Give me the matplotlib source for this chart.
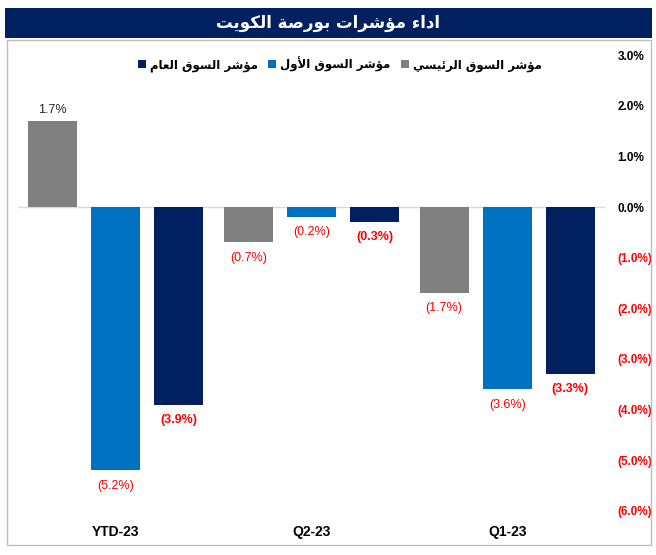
import numpy as np
import matplotlib
matplotlib.use("Agg")
import matplotlib.pyplot as plt
from matplotlib.patches import Rectangle

# data (%)
categories = ["YTD-23", "Q2-23", "Q1-23"]
series_names = ["مؤشر السوق الرئيسي", "مؤشر السوق الأول", "مؤشر السوق العام"]
main_idx = [1.7, -0.7, -1.7]
premier_idx = [-5.2, -0.2, -3.6]
all_share_idx = [-3.9, -0.3, -3.3]
title = "اداء مؤشرات بورصة الكويت"
y_ticks = [3, 2, 1, 0, -1, -2, -3, -4, -5, -6]

NAVY, BLUE, GRAY, RED = "#002060", "#0070C0", "#808080", "#FF0000"

# matplotlib has no arabic shaping -> map to presentation forms + reverse
FORMS = {
    "ا": (0xFE8D, 0xFE8E), "أ": (0xFE83, 0xFE84), "د": (0xFEA9, 0xFEAA),
    "ر": (0xFEAD, 0xFEAE), "و": (0xFEED, 0xFEEE), "ؤ": (0xFE85, 0xFE86),
    "ة": (0xFE93, 0xFE94), "ء": (0xFE80,),
}
for ch, base in {"ب": 0xFE8F, "ت": 0xFE95, "ش": 0xFEB5, "س": 0xFEB1, "ص": 0xFEB9,
                 "ع": 0xFEC9, "ق": 0xFED5, "ك": 0xFED9, "ل": 0xFEDD, "م": 0xFEE1,
                 "ن": 0xFEE5, "ي": 0xFEF1, "ئ": 0xFE89}.items():
    FORMS[ch] = (base, base + 1, base + 2, base + 3)
LAM_ALEF = {"ا": (0xFEFB, 0xFEFC), "أ": (0xFEF7, 0xFEF8)}


def shape(s):
    # merge lam+alef first
    toks = []
    i = 0
    while i < len(s):
        if s[i] == "ل" and i + 1 < len(s) and s[i + 1] in LAM_ALEF:
            toks.append(("LA", s[i + 1])); i += 2
        else:
            toks.append((s[i], None)); i += 1

    def forms(t):
        return LAM_ALEF[t[1]] if t[0] == "LA" else FORMS.get(t[0])

    out = []
    for k, t in enumerate(toks):
        f = forms(t)
        if f is None:
            out.append(t[0]); continue
        pf = forms(toks[k - 1]) if k > 0 else None
        nf = forms(toks[k + 1]) if k + 1 < len(toks) else None
        jp = pf is not None and len(pf) == 4 and len(f) > 1
        jn = len(f) == 4 and nf is not None and len(nf) > 1
        if len(f) == 1:
            c = f[0]
        elif len(f) == 2:
            c = f[1] if jp else f[0]
        else:
            c = f[3] if (jp and jn) else f[1] if jp else f[2] if jn else f[0]
        out.append(chr(c))
    return "".join(out[::-1])


def fmt(v):
    return f"{v:.1f}%" if v >= 0 else f"({abs(v):.1f}%)"


plt.rcParams["font.family"] = ["Liberation Sans", "DejaVu Sans"]
W, H = 656, 555
fig = plt.figure(figsize=(W / 100, H / 100), dpi=100)

# title bar and outer frame (pixel coords from top-left)
def px_rect(x0, y0, x1, y1, **kw):
    fig.patches.append(Rectangle((x0 / W, 1 - y1 / H), (x1 - x0) / W, (y1 - y0) / H,
                                 transform=fig.transFigure, figure=fig, **kw))

px_rect(7, 40, 651, 545, facecolor="none", edgecolor="#BFBFBF", lw=1)
px_rect(5, 8, 652, 38, facecolor=NAVY, edgecolor="none")
fig.text(328 / W, 1 - 23 / H, shape(title), color="white", fontsize=12,
         fontweight="bold", family="DejaVu Sans", ha="center", va="center")

ax = fig.add_axes([18 / W, 1 - 511 / H, 587 / W, 456 / H])
ax.set_facecolor("none")
x = np.arange(len(categories))
off, bw = 0.322, 0.25
vals = [main_idx, premier_idx, all_share_idx]
cols = [GRAY, BLUE, NAVY]
bars = []
for j, (v, c) in enumerate(zip(vals, cols)):
    b = ax.bar(x + (j - 1) * off, v, bw, color=c, edgecolor="none", zorder=2)
    bars.append(b)
    for xi, vi in zip(x + (j - 1) * off, v):
        if vi >= 0:
            ax.annotate(fmt(vi), (xi, vi), xytext=(0, 8), textcoords="offset points",
                        ha="center", va="center", fontsize=9, color="#262626")
        else:
            ax.annotate(fmt(vi), (xi, vi), xytext=(0, -11), textcoords="offset points",
                        ha="center", va="center", fontsize=9, color=RED,
                        fontweight="bold" if j == 2 else "normal")

ax.axhline(0, color="#D9D9D9", lw=1, zorder=1)
ax.set_xlim(-0.5, 2.5)
ax.set_ylim(-6, 3)
for s in ax.spines.values():
    s.set_visible(False)

ax.set_xticks(x)
ax.set_xticklabels(categories, fontsize=10, fontweight="bold")
ax.tick_params(axis="x", length=0, pad=10)
ax.yaxis.tick_right()
ax.set_yticks(y_ticks)
ax.set_yticklabels([fmt(t) for t in y_ticks], fontsize=8.5, fontweight="bold")
ax.tick_params(axis="y", length=0, pad=9)
for t, lab in zip(y_ticks, ax.get_yticklabels()):
    lab.set_color(RED if t < 0 else "black")

leg = ax.legend([bars[2], bars[1], bars[0]],
                [shape(series_names[2]), shape(series_names[1]), shape(series_names[0])],
                loc="center", bbox_to_anchor=(0.548, 0.98), ncol=3, frameon=False,
                handlelength=0.7, handleheight=0.7, handletextpad=0.3,
                columnspacing=0.9, prop={"family": "DejaVu Sans", "weight": "bold", "size": 8.5})

fig.savefig("out.png", dpi=100)
